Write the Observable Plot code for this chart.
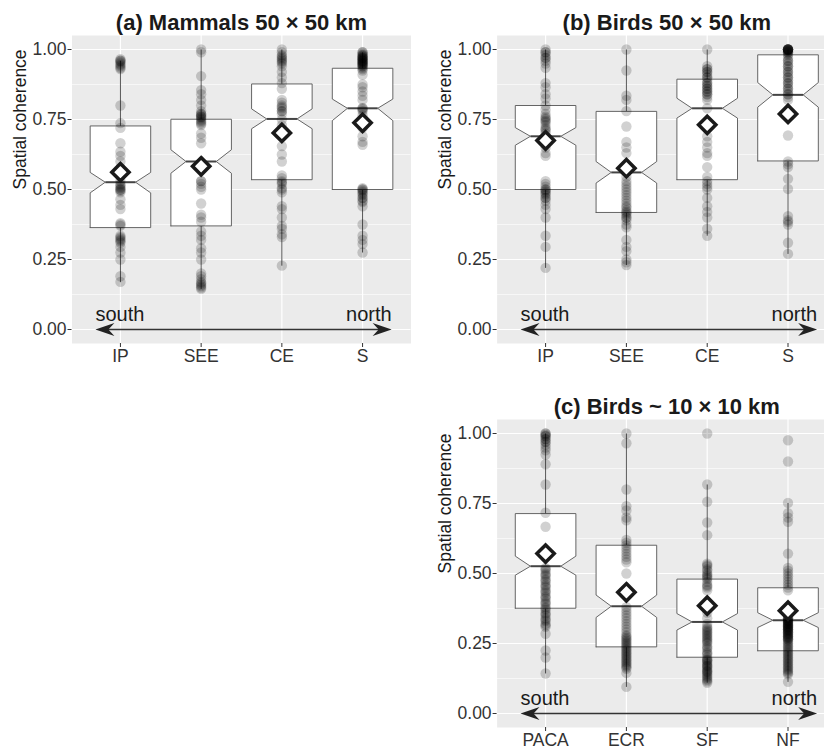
<!DOCTYPE html>
<html><head><meta charset="utf-8">
<script src="https://cdn.jsdelivr.net/npm/d3@7"></script>
<script src="https://cdn.jsdelivr.net/npm/@observablehq/plot@0.6"></script>
<style>
html,body{margin:0;padding:0;background:#fff;overflow:hidden}
#wrap{position:relative;width:824px;height:746px;overflow:hidden;background:#fff}
.panel{position:absolute}
.panel svg{overflow:visible;max-width:none !important;background:transparent !important}
</style></head><body><div id="wrap"></div>
<script>
// ---------------- data ----------------
const catsAB = ["IP", "SEE", "CE", "S"];
const catsC = ["PACA", "ECR", "SF", "NF"];
const titleA = "(a) Mammals 50 × 50 km";
const titleB = "(b) Birds 50 × 50 km";
const titleC = "(c) Birds ~ 10 × 10 km";
const yLabel = "Spatial coherence";
const yTicks = [0, 0.25, 0.5, 0.75, 1];
const yMinor = [0.125, 0.375, 0.625, 0.875];

// (a) Mammals 50 x 50 km
const a_q1 = [0.364, 0.370, 0.535, 0.500];
const a_med = [0.526, 0.600, 0.752, 0.790];
const a_q3 = [0.727, 0.751, 0.877, 0.933];
const a_notchLo = [0.488, 0.558, 0.717, 0.746];
const a_notchHi = [0.561, 0.642, 0.788, 0.823];
const a_whiskLo = [0.169, 0.145, 0.228, 0.275];
const a_whiskHi = [0.96, 1.00, 1.00, 0.99];
const a_mean = [0.562, 0.583, 0.702, 0.738];
const a_IP = [0.965, 0.96, 0.96, 0.955, 0.95, 0.945, 0.94, 0.935, 0.93, 0.80, 0.737, 0.72, 0.665, 0.635, 0.62, 0.60, 0.575, 0.55, 0.53, 0.52, 0.515, 0.51, 0.505, 0.50, 0.50, 0.495, 0.49, 0.465, 0.445, 0.43, 0.38, 0.375, 0.37, 0.335, 0.33, 0.325, 0.32, 0.315, 0.31, 0.295, 0.275, 0.25, 0.19, 0.17];
const a_SEE = [1.00, 0.99, 0.905, 0.855, 0.84, 0.82, 0.80, 0.78, 0.77, 0.77, 0.765, 0.76, 0.76, 0.755, 0.75, 0.745, 0.74, 0.735, 0.73, 0.70, 0.685, 0.665, 0.53, 0.53, 0.52, 0.51, 0.50, 0.45, 0.41, 0.40, 0.385, 0.35, 0.335, 0.32, 0.29, 0.275, 0.25, 0.20, 0.19, 0.18, 0.17, 0.165, 0.16, 0.155, 0.15, 0.145];
const a_CE = [1.00, 0.99, 0.98, 0.975, 0.97, 0.965, 0.96, 0.955, 0.95, 0.94, 0.92, 0.90, 0.88, 0.86, 0.82, 0.81, 0.80, 0.795, 0.79, 0.78, 0.78, 0.77, 0.75, 0.73, 0.655, 0.625, 0.60, 0.55, 0.54, 0.53, 0.525, 0.52, 0.505, 0.50, 0.49, 0.44, 0.43, 0.40, 0.37, 0.36, 0.34, 0.33, 0.228];
const a_S = [0.99, 0.99, 0.985, 0.98, 0.98, 0.975, 0.975, 0.97, 0.97, 0.97, 0.965, 0.965, 0.96, 0.96, 0.96, 0.955, 0.955, 0.95, 0.95, 0.95, 0.945, 0.945, 0.94, 0.94, 0.935, 0.93, 0.925, 0.91, 0.875, 0.865, 0.85, 0.835, 0.82, 0.79, 0.79, 0.785, 0.78, 0.765, 0.745, 0.72, 0.69, 0.67, 0.66, 0.505, 0.50, 0.50, 0.495, 0.49, 0.485, 0.48, 0.47, 0.47, 0.46, 0.455, 0.44, 0.375, 0.335, 0.32, 0.305, 0.275];

// (b) Birds 50 x 50 km
const b_q1 = [0.500, 0.418, 0.535, 0.602];
const b_med = [0.690, 0.561, 0.790, 0.838];
const b_q3 = [0.800, 0.779, 0.894, 0.981];
const b_notchLo = [0.658, 0.523, 0.755, 0.794];
const b_notchHi = [0.721, 0.600, 0.826, 0.882];
const b_whiskLo = [0.22, 0.23, 0.335, 0.27];
const b_whiskHi = [1.00, 1.00, 1.00, 1.00];
const b_mean = [0.675, 0.576, 0.731, 0.770];
const b_IP = [1.00, 0.99, 0.99, 0.98, 0.97, 0.97, 0.96, 0.95, 0.935, 0.88, 0.865, 0.84, 0.825, 0.80, 0.785, 0.77, 0.76, 0.755, 0.75, 0.745, 0.74, 0.73, 0.72, 0.715, 0.71, 0.70, 0.675, 0.65, 0.63, 0.62, 0.53, 0.52, 0.51, 0.50, 0.50, 0.495, 0.49, 0.485, 0.48, 0.47, 0.47, 0.46, 0.445, 0.43, 0.40, 0.335, 0.295, 0.22];
const b_SEE = [1.00, 0.925, 0.835, 0.82, 0.78, 0.725, 0.67, 0.65, 0.63, 0.58, 0.545, 0.53, 0.52, 0.51, 0.50, 0.49, 0.48, 0.47, 0.46, 0.45, 0.44, 0.435, 0.425, 0.42, 0.415, 0.41, 0.40, 0.40, 0.39, 0.375, 0.365, 0.32, 0.295, 0.28, 0.25, 0.24, 0.23];
const b_CE = [1.00, 0.94, 0.93, 0.93, 0.92, 0.92, 0.91, 0.90, 0.90, 0.89, 0.88, 0.88, 0.87, 0.87, 0.86, 0.86, 0.85, 0.85, 0.84, 0.84, 0.83, 0.82, 0.79, 0.735, 0.72, 0.69, 0.67, 0.65, 0.63, 0.62, 0.58, 0.545, 0.53, 0.52, 0.51, 0.50, 0.47, 0.44, 0.42, 0.40, 0.36, 0.335];
const b_S = [1.00, 1.00, 1.00, 1.00, 1.00, 1.00, 1.00, 1.00, 1.00, 0.995, 0.995, 0.99, 0.99, 0.985, 0.98, 0.97, 0.96, 0.96, 0.95, 0.94, 0.94, 0.93, 0.92, 0.92, 0.91, 0.90, 0.90, 0.89, 0.88, 0.88, 0.87, 0.86, 0.86, 0.85, 0.84, 0.84, 0.83, 0.82, 0.77, 0.693, 0.60, 0.59, 0.58, 0.538, 0.502, 0.405, 0.39, 0.385, 0.375, 0.31, 0.27];

// (c) Birds ~10 x 10 km
const c_q1 = [0.376, 0.238, 0.201, 0.224];
const c_med = [0.526, 0.383, 0.327, 0.333];
const c_q3 = [0.714, 0.601, 0.480, 0.449];
const c_notchLo = [0.494, 0.343, 0.298, 0.307];
const c_notchHi = [0.562, 0.423, 0.357, 0.360];
const c_whiskLo = [0.143, 0.095, 0.110, 0.113];
const c_whiskHi = [1.00, 1.00, 0.818, 0.752];
const c_mean = [0.571, 0.433, 0.385, 0.367];
const c_PACA = [1.00, 1.00, 0.995, 0.99, 0.99, 0.98, 0.98, 0.97, 0.97, 0.96, 0.95, 0.94, 0.925, 0.89, 0.818, 0.717, 0.667, 0.52, 0.515, 0.51, 0.50, 0.495, 0.49, 0.48, 0.475, 0.47, 0.46, 0.455, 0.45, 0.44, 0.435, 0.43, 0.42, 0.415, 0.41, 0.40, 0.395, 0.39, 0.38, 0.375, 0.37, 0.36, 0.355, 0.35, 0.34, 0.335, 0.33, 0.32, 0.315, 0.31, 0.285, 0.225, 0.20, 0.143];
const c_ECR = [1.00, 0.965, 0.80, 0.74, 0.725, 0.70, 0.69, 0.62, 0.61, 0.60, 0.59, 0.58, 0.57, 0.56, 0.55, 0.54, 0.50, 0.43, 0.38, 0.37, 0.36, 0.35, 0.34, 0.33, 0.32, 0.31, 0.30, 0.29, 0.28, 0.275, 0.27, 0.265, 0.26, 0.255, 0.25, 0.245, 0.24, 0.235, 0.23, 0.225, 0.22, 0.215, 0.21, 0.205, 0.20, 0.195, 0.19, 0.185, 0.18, 0.175, 0.17, 0.165, 0.16, 0.145, 0.095];
const c_SF = [1.00, 0.818, 0.756, 0.682, 0.637, 0.535, 0.53, 0.525, 0.515, 0.51, 0.50, 0.495, 0.49, 0.485, 0.48, 0.47, 0.46, 0.455, 0.45, 0.44, 0.38, 0.36, 0.34, 0.32, 0.31, 0.305, 0.30, 0.295, 0.29, 0.285, 0.28, 0.275, 0.27, 0.265, 0.26, 0.255, 0.25, 0.24, 0.235, 0.23, 0.22, 0.215, 0.21, 0.20, 0.195, 0.19, 0.19, 0.185, 0.18, 0.175, 0.17, 0.17, 0.165, 0.16, 0.155, 0.15, 0.15, 0.145, 0.14, 0.135, 0.13, 0.125, 0.12, 0.115, 0.11];
const c_NF = [0.976, 0.90, 0.752, 0.715, 0.70, 0.685, 0.571, 0.52, 0.51, 0.50, 0.49, 0.48, 0.47, 0.46, 0.45, 0.44, 0.38, 0.36, 0.34, 0.34, 0.34, 0.335, 0.335, 0.33, 0.33, 0.33, 0.325, 0.325, 0.32, 0.32, 0.32, 0.315, 0.315, 0.31, 0.31, 0.31, 0.305, 0.305, 0.30, 0.30, 0.30, 0.295, 0.295, 0.29, 0.29, 0.285, 0.285, 0.28, 0.28, 0.275, 0.275, 0.27, 0.27, 0.265, 0.265, 0.26, 0.255, 0.25, 0.245, 0.24, 0.235, 0.23, 0.225, 0.22, 0.215, 0.21, 0.205, 0.20, 0.195, 0.19, 0.185, 0.18, 0.175, 0.17, 0.165, 0.16, 0.155, 0.15, 0.145, 0.14, 0.113];

// ---------------- drawing ----------------
const FONT = "'Liberation Sans', Arial, Helvetica, sans-serif";
const BOXW = 0.375;           // half box width (ggplot width 0.75)
const ARROW_L = 0.69, ARROW_R = 4.36;

const stealth = {
  draw(ctx) {
    ctx.moveTo(0, 0);
    ctx.lineTo(-19, -6.5);
    ctx.lineTo(-13, 0);
    ctx.lineTo(-19, 6.5);
    ctx.closePath();
  }
};

function panel(d, geo) {
  const idx = d.cats.map((c, i) => i + 1);
  const outline = [];
  idx.forEach((x, i) => {
    const w = BOXW;
    [[x - w, d.q1[i]], [x + w, d.q1[i]], [x + w, d.nlo[i]], [x + w / 2, d.med[i]], [x + w, d.nhi[i]],
     [x + w, d.q3[i]], [x - w, d.q3[i]], [x - w, d.nhi[i]], [x - w / 2, d.med[i]], [x - w, d.nlo[i]], [x - w, d.q1[i]]]
      .forEach(([px, py]) => outline.push({x: px, y: py, g: d.cats[i]}));
  });
  const pts = d.points.flatMap((arr, i) => arr.map(v => ({x: i + 1, y: v})));
  return Plot.plot({
    width: geo.width, height: geo.height,
    marginLeft: geo.ml, marginRight: geo.mr, marginTop: geo.mt, marginBottom: geo.mb,
    x: {type: "linear", domain: [0.4, 4.6]},
    y: {domain: [-0.05, 1.05]},
    style: {fontFamily: FONT, fontSize: "17.5px", color: "#333", background: "transparent", maxWidth: "none"},
    marks: [
      Plot.frame({fill: "#EBEBEB", stroke: "none"}),
      Plot.gridY({ticks: yMinor, stroke: "white", strokeOpacity: 1, strokeWidth: 0.6}),
      Plot.gridY({ticks: yTicks, stroke: "white", strokeOpacity: 1, strokeWidth: 1.2}),
      Plot.gridX({ticks: idx, stroke: "white", strokeOpacity: 1, strokeWidth: 1.2}),
      Plot.axisY({ticks: yTicks, tickFormat: d3.format(".2f"), tickSize: 4, tickPadding: 1.5, label: null, stroke: "#333", fill: "#333", fontSize: 17.5}),
      Plot.axisX({ticks: idx, tickFormat: i => d.cats[i - 1], tickSize: 4, tickPadding: 2, label: null, stroke: "#333", fill: "#333", fontSize: 17.5}),
      Plot.link(idx, {x1: i => i, x2: i => i, y1: i => d.q3[i - 1], y2: i => d.whi[i - 1], stroke: "#555", strokeWidth: 1}),
      Plot.link(idx, {x1: i => i, x2: i => i, y1: i => d.q1[i - 1], y2: i => d.wlo[i - 1], stroke: "#555", strokeWidth: 1}),
      Plot.line(outline, {x: "x", y: "y", z: "g", fill: "white", stroke: "#555", strokeWidth: 0.9, strokeLinejoin: "miter"}),
      Plot.link(idx, {x1: i => i - BOXW / 2, x2: i => i + BOXW / 2, y1: i => d.med[i - 1], y2: i => d.med[i - 1], stroke: "#444", strokeWidth: 2}),
      Plot.dot(pts, {x: "x", y: "y", r: 5.2, fill: "black", fillOpacity: 0.18, stroke: "none"}),
      Plot.dot(idx, {x: i => i, y: i => d.mean[i - 1], symbol: "diamond2", r: 7.8, fill: "white", stroke: "#1a1a1a", strokeWidth: 3.5, strokeLinejoin: "miter"}),
      Plot.link([0], {x1: () => ARROW_L + 0.12, x2: () => ARROW_R - 0.12, y1: () => 0, y2: () => 0, stroke: "#333", strokeWidth: 1.3}),
      Plot.dot([{x: ARROW_L, rot: 180}, {x: ARROW_R, rot: 0}], {x: "x", y: () => 0, rotate: "rot", symbol: stealth, r: 1, fill: "#222", stroke: "none"}),
      Plot.text(["south"], {x: () => ARROW_L, y: () => 0, text: t => t, textAnchor: "start", lineAnchor: "bottom", dy: -9, fontSize: 20, fill: "#1a1a1a"}),
      Plot.text(["north"], {x: () => ARROW_R, y: () => 0, text: t => t, textAnchor: "end", lineAnchor: "bottom", dy: -9, fontSize: 20, fill: "#1a1a1a"}),
      Plot.text([d.title], {frameAnchor: "top", text: t => t, lineAnchor: "bottom", dy: -6, fontSize: 22, fontWeight: "bold", fill: "#1a1a1a"}),
      Plot.text([yLabel], {frameAnchor: "left", text: t => t, rotate: -90, lineAnchor: "bottom", dx: -46.5, fontSize: 17.5, fill: "#1a1a1a"})
    ]
  });
}

const wrap = document.getElementById("wrap");
function place(svg, left, top, width) {
  const div = document.createElement("div");
  div.className = "panel";
  div.style.left = left + "px";
  div.style.top = top + "px";
  div.style.width = width + "px";
  div.appendChild(svg);
  wrap.appendChild(div);
}

place(panel({cats: catsAB, title: titleA, points: [a_IP, a_SEE, a_CE, a_S], q1: a_q1, med: a_med, q3: a_q3, nlo: a_notchLo, nhi: a_notchHi, wlo: a_whiskLo, whi: a_whiskHi, mean: a_mean},
  {width: 412, height: 373, ml: 71.5, mr: 1.5, mt: 35, mb: 30}), 0, 0, 412);
place(panel({cats: catsAB, title: titleB, points: [b_IP, b_SEE, b_CE, b_S], q1: b_q1, med: b_med, q3: b_q3, nlo: b_notchLo, nhi: b_notchHi, wlo: b_whiskLo, whi: b_whiskHi, mean: b_mean},
  {width: 426, height: 373, ml: 84.6, mr: 2, mt: 35, mb: 30}), 412, 0, 426);
place(panel({cats: catsC, title: titleC, points: [c_PACA, c_ECR, c_SF, c_NF], q1: c_q1, med: c_med, q3: c_q3, nlo: c_notchLo, nhi: c_notchHi, wlo: c_whiskLo, whi: c_whiskHi, mean: c_mean},
  {width: 426, height: 373, ml: 84.6, mr: 2, mt: 46, mb: 19}), 412, 373, 426);
</script></body></html>
